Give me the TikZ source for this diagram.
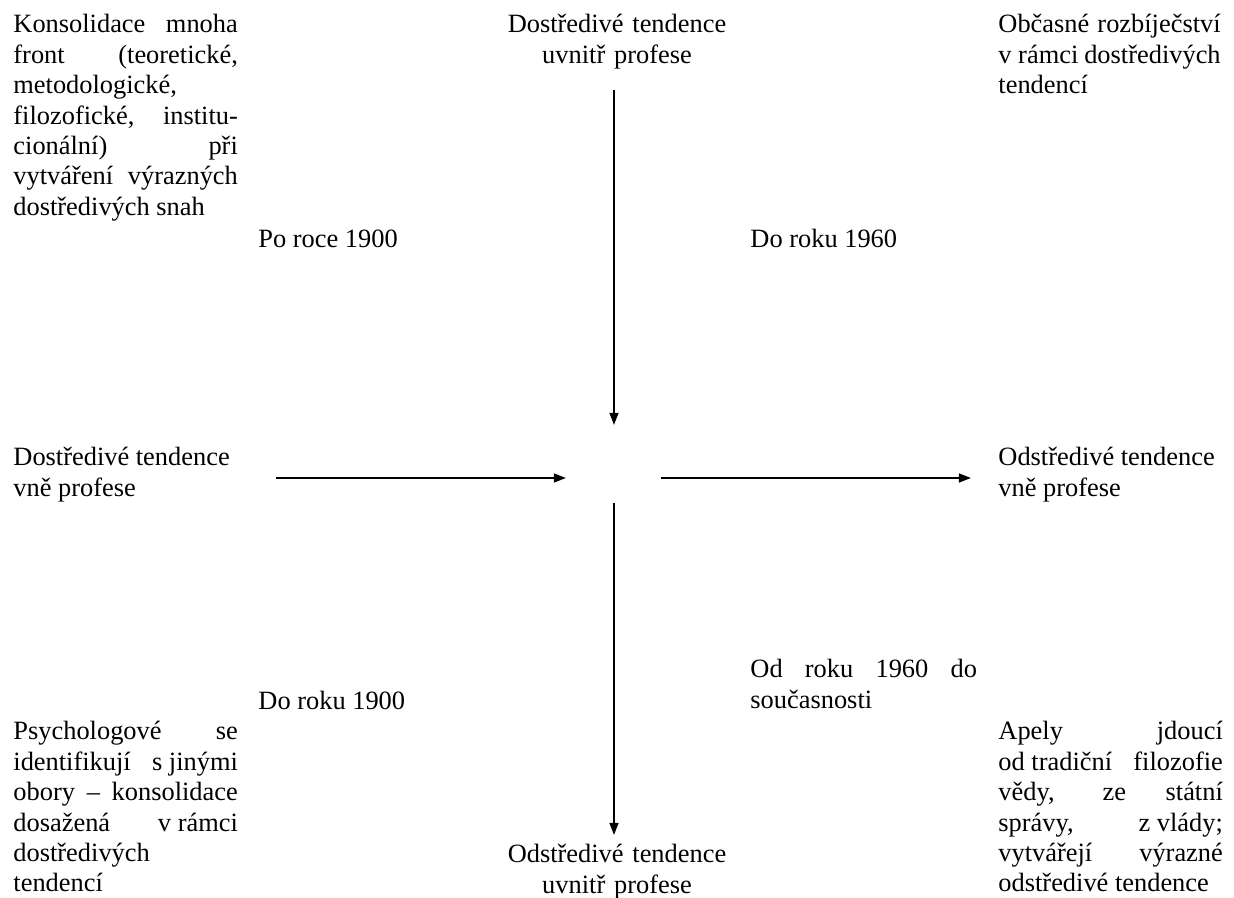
\documentclass[tikz,border=0pt]{standalone}
\usepackage{fontspec}
\setmainfont{Liberation Serif}
\usetikzlibrary{arrows.meta,calc}

\begin{document}
\begin{tikzpicture}[x=0.4545pt,y=-0.4545pt,
    every node/.style={inner sep=0pt,font=\fontsize{12}{13.8}\selectfont},
    blok/.style={text width=102pt,align=justify,anchor=base west},
    nadpis/.style={text width=115pt,align=center,anchor=base},
    popis/.style={anchor=base west},
    sipka/.style={-{Triangle[length=5.5pt,width=4pt]},line width=0.9pt}]
    \useasboundingbox (0,0) rectangle (1234,898);
    \coordinate (stred) at (614,478);

    \node[blok] (kons) at (13,33) {Konsolidace mnoha\linebreak front (teoretické,\linebreak metodologické,\newline filozofické, institu-\linebreak cionální) při\linebreak vytváření výrazných\linebreak dostředivých snah};
    \node[nadpis] (dovnitr) at (617,33) {Dostředivé tendence\\uvnitř profese};
    \node[blok,text width=101pt] (obcas) at (998,33) {Občasné rozbíječství\linebreak \mbox{v rámci} dostředivých\linebreak tendencí};

    \node[popis] (po1900) at (258,248) {Po roce 1900};
    \node[popis] (do1960) at (750,248) {Do roku 1960};

    \node[blok] (dovne) at (13,466) {Dostředivé tendence\newline vně profese};
    \node[blok] (odvne) at (998,466) {Odstředivé tendence\newline vně profese};

    \node[blok,text width=103pt] (od1960) at (750,678) {Od roku 1960 do\linebreak současnosti};
    \node[popis] (do1900) at (258,710) {Do roku 1900};

    \node[blok] (psych) at (13,740) {Psychologové se\linebreak identifikují \mbox{s jinými}\linebreak obory – konsolidace\linebreak dosažená \mbox{v rámci}\linebreak dostředivých\newline tendencí};
    \node[nadpis] (odvnitr) at (617,863) {Odstředivé tendence\\uvnitř profese};
    \node[blok] (apely) at (998,740) {Apely jdoucí\linebreak \mbox{od tradiční} filozofie\linebreak vědy, ze státní\linebreak správy, \mbox{z vlády;}\linebreak vytvářejí výrazné\linebreak odstředivé tendence};

    % sipky ke stredu a od nej
    \draw[sipka] ($(stred)+(0,-388)$) -- ($(stred)+(0,-53)$);
    \draw[sipka] ($(stred)+(-338,0)$) -- ($(stred)+(-48,0)$);
    \draw[sipka] ($(stred)+(47,0)$) -- ($(stred)+(357,0)$);
    \draw[sipka] ($(stred)+(0,25)$) -- ($(stred)+(0,357)$);
\end{tikzpicture}
\end{document}
